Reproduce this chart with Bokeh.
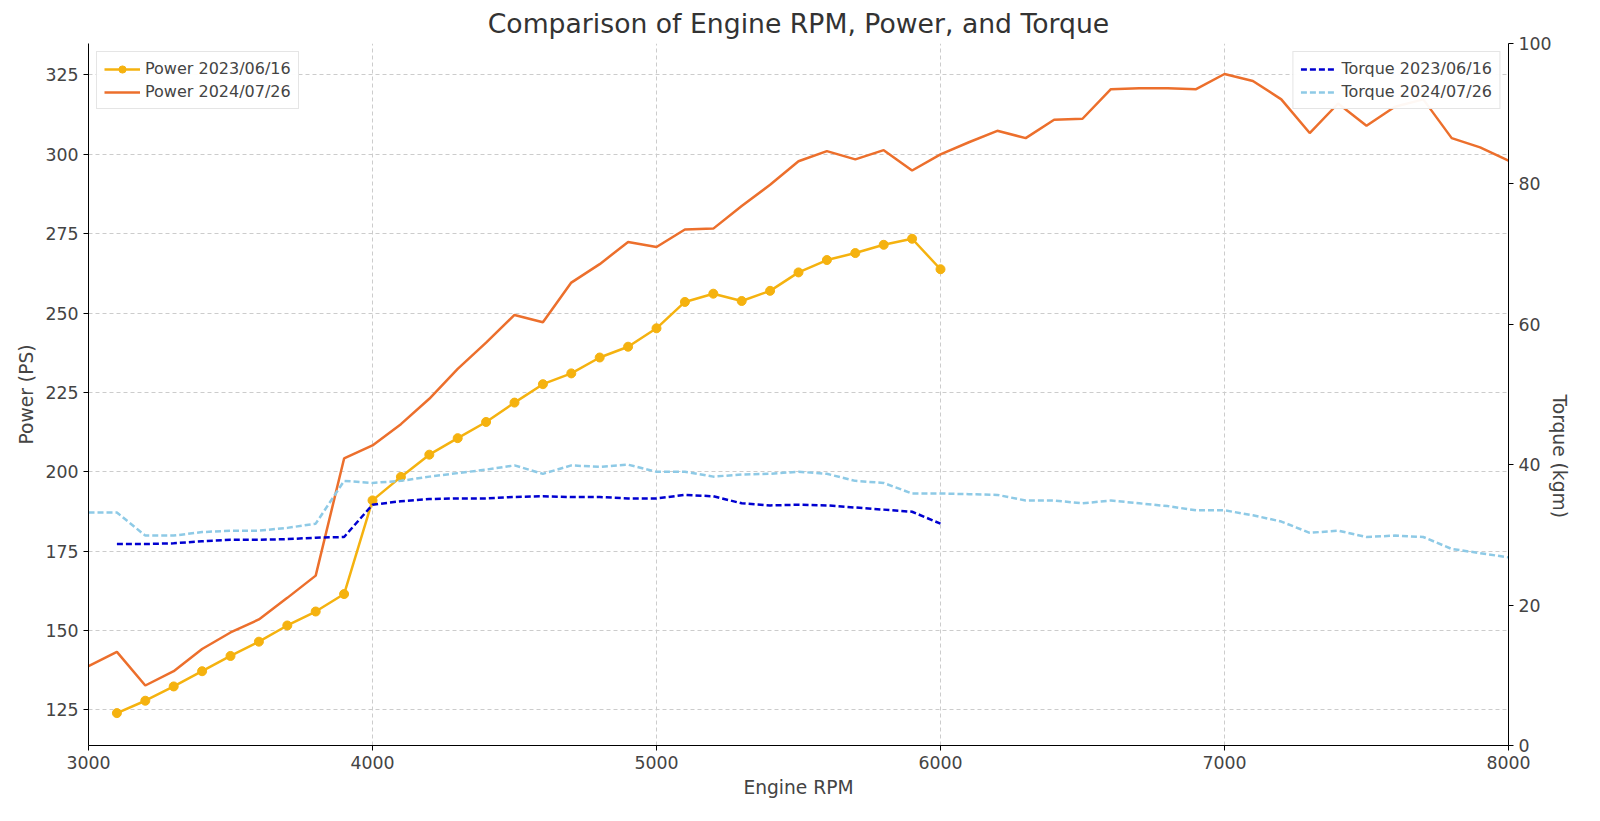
import math
from bokeh.plotting import figure
from bokeh.models import Range1d, LinearAxis, Legend, LegendItem
from bokeh.embed import file_html
from bokeh.resources import INLINE

rpm_2023 = list(range(3100, 6001, 100))
power_2023 = [124, 127.9, 132.4, 137.2, 142, 146.5, 151.6, 156, 161.5, 191, 198.4, 205.4, 210.6, 215.7, 221.8,
              227.6, 231, 236, 239.4, 245.2, 253.5, 256.1, 253.8, 257, 262.8, 266.7, 268.9, 271.5, 273.4, 263.8]
torque_2023 = [28.7, 28.7, 28.8, 29.1, 29.3, 29.3, 29.4, 29.6, 29.7, 34.3, 34.8, 35.1, 35.2, 35.2, 35.4,
               35.5, 35.4, 35.4, 35.2, 35.2, 35.7, 35.5, 34.5, 34.2, 34.3, 34.2, 33.9, 33.6, 33.3, 31.6]
rpm_2024 = list(range(3000, 8001, 100))
power_2024 = [138.8, 143.3, 132.7, 137.2, 144.2, 149.4, 153.5, 160.3, 167.3, 204.2, 208.3, 215, 223, 232.4, 240.7,
              249.4, 247.1, 259.6, 265.4, 272.4, 270.8, 276.3, 276.6, 283.7, 290.4, 297.8, 301, 298.4, 301.3, 294.9,
              300, 303.8, 307.4, 305.1, 310.9, 311.2, 320.5, 320.8, 320.8, 320.5, 325.3, 323.1, 317.3, 306.7, 316,
              309, 315, 317.3, 305.1, 302.2, 298]
torque_2024 = [33.2, 33.2, 29.9, 29.9, 30.4, 30.6, 30.6, 31, 31.6, 37.7, 37.4, 37.7, 38.3, 38.8, 39.3, 39.9,
               38.7, 39.9, 39.7, 40, 39, 39, 38.3, 38.6, 38.7, 39, 38.7, 37.7, 37.4, 35.9, 35.9, 35.8, 35.7, 34.9,
               34.9, 34.5, 34.9, 34.5, 34.1, 33.5, 33.5, 32.8, 31.9, 30.3, 30.6, 29.7, 29.9, 29.7, 28, 27.4, 26.8]

FONT = "DejaVu Sans"
p = figure(width=1584, height=805, output_backend="svg", toolbar_location=None,
           x_range=Range1d(3000, 8000), y_range=Range1d(113.8, 334.9),
           title="Comparison of Engine RPM, Power, and Torque",
           x_axis_label="Engine RPM", y_axis_label="Power (PS)",
           min_border_left=88, min_border_right=76, min_border_top=13, min_border_bottom=60)
p.title.align = "center"
p.title.text_font = FONT
p.title.text_font_size = "20pt"
p.title.text_font_style = "normal"
p.title.text_color = "#333333"
p.extra_y_ranges = {"torque": Range1d(0, 100)}
ax2 = LinearAxis(y_range_name="torque", axis_label="Torque (kgm)")
ax2.axis_label_orientation = -math.pi / 2
p.add_layout(ax2, "right")
for ax in [p.xaxis[0], p.yaxis[0], ax2]:
    ax.axis_label_text_font = FONT
    ax.axis_label_text_font_style = "normal"
    ax.axis_label_text_font_size = "14pt"
    ax.major_label_text_font = FONT
    ax.major_label_text_font_size = "13pt"
    ax.minor_tick_line_color = None
    ax.major_tick_out = 5
    ax.major_tick_in = 0
p.xaxis.ticker = [3000, 4000, 5000, 6000, 7000, 8000]
p.yaxis[0].ticker = [125, 150, 175, 200, 225, 250, 275, 300, 325]
ax2.ticker = [0, 20, 40, 60, 80, 100]
p.grid.grid_line_dash = "4 3"
p.grid.grid_line_color = "#cccccc"
p.outline_line_color = None

r1 = p.line(rpm_2023, power_2023, line_color="#f5b20f", line_width=2.5)
r1c = p.scatter(rpm_2023, power_2023, color="#f5b20f", size=9)
r2 = p.line(rpm_2024, power_2024, line_color="#ec6f2c", line_width=2.5)
r3 = p.line(rpm_2023, torque_2023, line_color="#0000d0", line_width=2.5, line_dash="6 3", y_range_name="torque")
r4 = p.line(rpm_2024, torque_2024, line_color="#8ecae6", line_width=2.5, line_dash="6 3", y_range_name="torque")

for items, loc in [([LegendItem(label="Power 2023/06/16", renderers=[r1, r1c]),
                     LegendItem(label="Power 2024/07/26", renderers=[r2])], "top_left"),
                   ([LegendItem(label="Torque 2023/06/16", renderers=[r3]),
                     LegendItem(label="Torque 2024/07/26", renderers=[r4])], "top_right")]:
    lg = Legend(items=items, location=loc, label_text_font=FONT, label_text_font_size="12pt",
                border_line_color="#cccccc", spacing=4, padding=7, margin=8,
                label_height=18, glyph_height=18, glyph_width=36)
    p.add_layout(lg)

open("out.html", "w").write(file_html(p, INLINE))
